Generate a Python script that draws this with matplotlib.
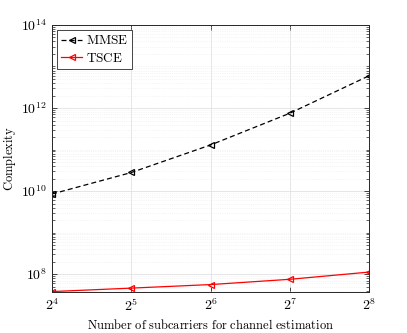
import numpy as np
import matplotlib
matplotlib.use('Agg')
import matplotlib.pyplot as plt
from matplotlib.ticker import LogLocator, FixedLocator, FuncFormatter, NullFormatter

plt.rcParams['mathtext.fontset'] = 'cm'
plt.rcParams['font.family'] = 'serif'
plt.rcParams['font.serif'] = ['DejaVu Serif']

# data
subcarriers = [16, 32, 64, 128, 256]
mmse = [8.5e9, 2.8e10, 1.29e11, 7.5e11, 6.0e12]
tsce = [3.8e7, 4.6e7, 5.6e7, 7.5e7, 1.12e8]

axcol = '#262626'

fig = plt.figure(figsize=(4.07, 3.33), dpi=100)
ax = fig.add_axes([0.128, 0.123, 0.779, 0.802])

ax.plot(subcarriers, mmse, color='black', linestyle='--', linewidth=0.9,
        marker='<', markersize=4.5, markerfacecolor='none', markeredgewidth=0.9,
        dashes=(4, 2.5), label=r'$\mathrm{MMSE}$')
ax.plot(subcarriers, tsce, color='red', linestyle='-', linewidth=0.9,
        marker='<', markersize=4.5, markerfacecolor='none', markeredgewidth=0.9,
        label=r'$\mathrm{TSCE}$')

ax.set_xscale('log', base=2)
ax.set_yscale('log')
ax.set_xlim(16, 256)
ax.set_ylim(3.7e7, 1e14)

ax.xaxis.set_major_locator(FixedLocator(subcarriers))
ax.xaxis.set_major_formatter(FuncFormatter(lambda v, p: r'$2^{%d}$' % round(np.log2(v))))
ax.xaxis.set_minor_locator(FixedLocator([]))
ax.yaxis.set_major_locator(FixedLocator([1e8, 1e10, 1e12, 1e14]))
ax.yaxis.set_major_formatter(FuncFormatter(lambda v, p: r'$10^{%d}$' % round(np.log10(v))))
ax.yaxis.set_minor_locator(LogLocator(base=10, subs=np.arange(1, 10), numticks=40))
ax.yaxis.set_minor_formatter(NullFormatter())

ax.grid(True, which='major', color='#e2e2e2', linewidth=0.6)
ax.grid(True, which='minor', axis='y', color='#ececec', linewidth=0.5, linestyle=':')
ax.set_axisbelow(True)

ax.tick_params(which='both', direction='in', top=True, right=True, colors=axcol,
               labelcolor='black', labelsize=10)
ax.tick_params(which='major', length=3.5, width=0.6, pad=4)
ax.tick_params(which='minor', length=2, width=0.5)
for s in ax.spines.values():
    s.set_color(axcol)
    s.set_linewidth(0.7)

ax.set_xlabel(r'$\mathrm{Number\ of\ subcarriers\ for\ channel\ estimation}$', fontsize=9, labelpad=3)
ax.set_ylabel(r'$\mathrm{Complexity}$', fontsize=9, labelpad=2)

leg = ax.legend(loc='upper left', fontsize=9.5, fancybox=False, framealpha=1,
                edgecolor=axcol, borderpad=0.3, handlelength=1.6, labelspacing=0.35,
                borderaxespad=0.4, handletextpad=0.3)
leg.get_frame().set_linewidth(0.6)

fig.savefig('out.png', dpi=100)
